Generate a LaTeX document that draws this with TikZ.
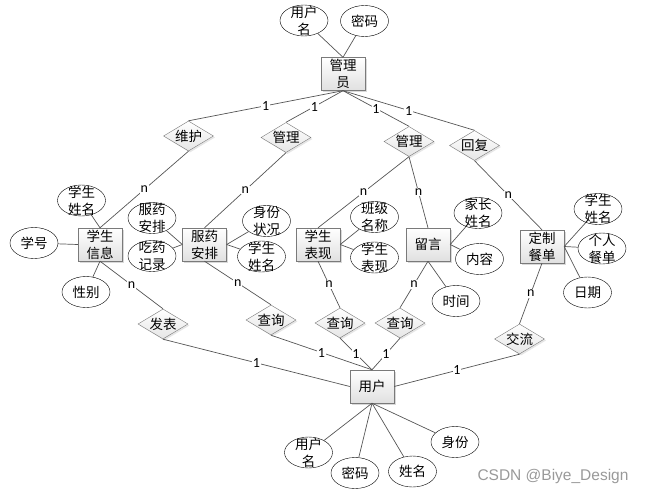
\documentclass[tikz,border=0pt]{standalone}
\usepackage{fontspec}
\usepackage{tikz}
\usetikzlibrary{shapes.geometric, shadows}
\newfontfamily\cjkfont{Noto Sans CJK SC}
\newfontfamily\wmfont{Liberation Sans}
\newfontfamily\cardfont{Carlito}
\newcommand{\erfont}{\cjkfont\fontsize{13.5}{17}\selectfont}
\definecolor{erline}{HTML}{555555}
\definecolor{erborder}{HTML}{7A7A7A}

\begin{document}
\begin{tikzpicture}[x=1pt, y=-1pt,
    ent/.style={draw=erborder, top color=white, bottom color=black!12,
                minimum width=44pt, minimum height=33pt, inner sep=0pt,
                align=center, font=\erfont,
                drop shadow={opacity=.3, shadow xshift=1.5pt, shadow yshift=-1.5pt}},
    rel/.style={diamond, draw=erborder, top color=white, bottom color=black!10,
                minimum width=50pt, minimum height=30pt, inner sep=0pt,
                drop shadow={opacity=.2, shadow xshift=1.5pt, shadow yshift=-1.5pt},
                label={[font=\erfont]center:#1}},
    attr/.style={ellipse, draw=black, fill=white, minimum width=48pt,
                 minimum height=31pt, inner sep=0pt,
                 label={[font=\erfont, align=center]center:#1}},
    lnk/.style={draw=erline, line width=0.7pt},
    card/.style={midway, fill=white, inner sep=0.8pt, font=\cardfont\fontsize{14}{14}\selectfont},
]
    \useasboundingbox (0,0) rectangle (645,495);

    \node[ent] (admin) at (343,74) {管理\\员};
    \node[ent] (stu) at (100,244.5) {学生\\信息};
    \node[ent] (med) at (204.5,244.5) {服药\\安排};
    \node[ent] (perf) at (318,244.5) {学生\\表现};
    \node[ent] (msg) at (428,244.5) {留言};
    \node[ent] (menu) at (542,246.5) {定制\\餐单};
    \node[ent] (user) at (372,386.5) {用户};

    \node[rel=维护] (wh) at (188.5,136) {};
    \node[rel=管理] (gl1) at (286,137.5) {};
    \node[rel=管理] (gl2) at (409,141.5) {};
    \node[rel=回复] (hf) at (474.5,145.5) {};
    \node[rel=发表] (fb) at (163,324) {};
    \node[rel=查询] (cx1) at (271,320) {};
    \node[rel=查询] (cx2) at (340,323) {};
    \node[rel=查询] (cx3) at (400,323) {};
    \node[rel=交流] (jl) at (519.5,339) {};

    \node[attr=用户\\名] (adm1) at (304,20.5) {};
    \node[attr=密码] (adm2) at (364.5,21) {};
    \node[attr=学生\\姓名] (stu1) at (81.5,200.5) {};
    \node[attr=学号] (stu2) at (34,243) {};
    \node[attr=性别] (stu3) at (86,292) {};
    \node[attr=服药\\安排] (med1) at (152,218) {};
    \node[attr=吃药\\记录] (med2) at (152,256) {};
    \node[attr=身份\\状况] (med3) at (266.5,221) {};
    \node[attr=学生\\姓名] (med4) at (261.5,256.5) {};
    \node[attr=班级\\名称] (perf1) at (374.5,217) {};
    \node[attr=学生\\表现] (perf2) at (374.5,257.5) {};
    \node[attr=家长\\姓名] (msg1) at (478,213) {};
    \node[attr=内容] (msg2) at (479.5,259) {};
    \node[attr=时间] (msg3) at (456,301) {};
    \node[attr=学生\\姓名] (menu1) at (598,209) {};
    \node[attr=个人\\餐单] (menu2) at (602,248.5) {};
    \node[attr=日期] (menu3) at (587.5,292.5) {};
    \node[attr=用户\\名] (usr1) at (308.5,452.5) {};
    \node[attr=密码] (usr2) at (355,473) {};
    \node[attr=姓名] (usr3) at (412.5,471.5) {};
    \node[attr=身份] (usr4) at (455,442) {};

    \draw[lnk] (adm1) -- (admin.north);
    \draw[lnk] (adm2) -- (admin.north);
    \draw[lnk] (stu1) -- (stu.north);
    \draw[lnk] (stu2) -- (stu.west);
    \draw[lnk] (stu3) -- (stu.south);
    \draw[lnk] (med1) -- (med.west);
    \draw[lnk] (med2) -- (med.west);
    \draw[lnk] (med3) -- (med.east);
    \draw[lnk] (med4) -- (med.east);
    \draw[lnk] (perf1) -- (perf.east);
    \draw[lnk] (perf2) -- (perf.east);
    \draw[lnk] (msg1) -- (msg.east);
    \draw[lnk] (msg2) -- (msg.east);
    \draw[lnk] (msg3) -- (msg.south);
    \draw[lnk] (menu1) -- (menu.east);
    \draw[lnk] (menu2) -- (menu.east);
    \draw[lnk] (menu3) -- (menu.east);
    \draw[lnk] (usr1) -- (user.south);
    \draw[lnk] (usr2) -- (user.south);
    \draw[lnk] (usr3) -- (user.south);
    \draw[lnk] (usr4) -- (user.south);

    \draw[lnk] (admin.south) -- node[card] {1} (wh.north);
    \draw[lnk] (admin.south) -- node[card] {1} (gl1.north);
    \draw[lnk] (admin.south) -- node[card] {1} (gl2.north);
    \draw[lnk] (admin.south) -- node[card] {1} (hf.north);
    \draw[lnk] (wh.south) -- node[card] {n} (stu.north);
    \draw[lnk] (gl1.south) -- node[card] {n} (med.north);
    \draw[lnk] (gl2.south) -- node[card] {n} (perf.north);
    \draw[lnk] (gl2.south) -- node[card] {n} (msg.north);
    \draw[lnk] (hf.south) -- node[card] {n} (menu.north);

    \draw[lnk] (stu.south) -- node[card] {n} (fb.north);
    \draw[lnk] (med.south) -- node[card] {n} (cx1.north);
    \draw[lnk] (perf.south) -- node[card] {n} (cx2.north);
    \draw[lnk] (msg.south) -- node[card] {n} (cx3.north);
    \draw[lnk] (menu.south) -- node[card] {n} (jl.north);
    \draw[lnk] (fb.south) -- node[card] {1} (user.west);
    \draw[lnk] (cx1.south) -- node[card] {1} (user.north);
    \draw[lnk] (cx2.south) -- node[card] {1} (user.north);
    \draw[lnk] (cx3.south) -- node[card] {1} (user.north);
    \draw[lnk] (jl.south) -- node[card] {1} (user.east);

    \node[font=\wmfont\fontsize{15.5}{16}\selectfont, text=black!40] (wm) at (553,476) {CSDN @Biye\_Design};
\end{tikzpicture}
\end{document}
